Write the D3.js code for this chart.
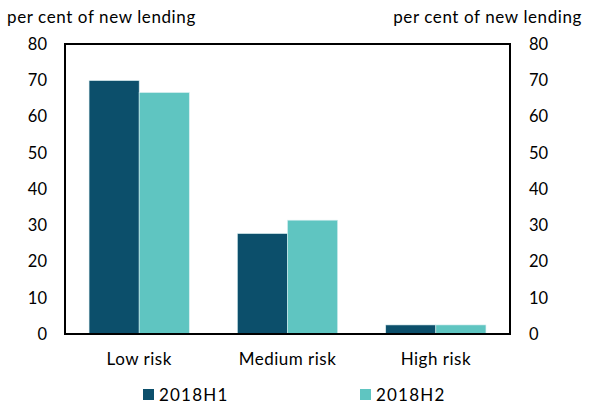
<!DOCTYPE html>
<html><head><meta charset="utf-8">
<script src="https://cdn.jsdelivr.net/npm/d3@7"></script>
<style>body{margin:0;background:#fff;} text{font-family:Lato, "Open Sans", sans-serif;}</style>
</head><body>
<svg id="c" width="593" height="409"></svg>
<script>
const categories = ["Low risk", "Medium risk", "High risk"];
const seriesNames = ["2018H1", "2018H2"];
const h1Values = [69.9, 27.7, 2.5];
const h2Values = [66.6, 31.4, 2.5];
const yTicks = [0, 10, 20, 30, 40, 50, 60, 70, 80];
const colors = ["#0c4f6b", "#5fc5c1"];
const unitLabel = "per cent of new lending";

(function(){
const svg = d3.select("#c");
const pL = 65, pR = 510, pT = 44, pB = 334;
const x0 = d3.scaleBand().domain(categories).range([pL, pR]).padding(0);
const x1 = d3.scaleBand().domain(seriesNames).range([0, x0.bandwidth()]).paddingInner(0).paddingOuter(0.48);
const y = d3.scaleLinear().domain([0, 80]).range([pB, pT]);

const data = categories.map((c, i) => ({cat: c, vals: [h1Values[i], h2Values[i]]}));

const g = svg.append("g");
data.forEach(d => {
  d.vals.forEach((v, j) => {
    g.append("rect")
      .attr("x", x0(d.cat) + x1(seriesNames[j]))
      .attr("y", y(v))
      .attr("width", x1.bandwidth())
      .attr("height", y(0) - y(v))
      .attr("fill", colors[j])
      .attr("stroke", "#d8eef0").attr("stroke-width", 0.6);
  });
});

svg.append("rect").attr("x", pL).attr("y", pT).attr("width", pR - pL).attr("height", pB - pT)
  .attr("fill", "none").attr("stroke", "#000").attr("stroke-width", 2);

const yl = d3.axisLeft(y).tickValues(yTicks).tickSize(0).tickPadding(18);
const yr = d3.axisRight(y).tickValues(yTicks).tickSize(0).tickPadding(19);
const gl = svg.append("g").attr("transform", `translate(${pL},0)`).call(yl);
const gr = svg.append("g").attr("transform", `translate(${pR},0)`).call(yr);
[gl, gr].forEach(a => {
  a.select(".domain").remove();
  a.selectAll("text").attr("font-size", 16.5).attr("fill", "#000").style("font-family", "Lato");
});

const xa = d3.axisBottom(x0).tickSize(0).tickPadding(19);
const gx = svg.append("g").attr("transform", `translate(0,${pB})`).call(xa);
gx.select(".domain").remove();
gx.selectAll("text").attr("font-size", 17).attr("letter-spacing", 0.5).attr("fill", "#000").style("font-family", "Lato");

svg.append("text").attr("x", 7).attr("y", 23).attr("font-size", 17).attr("letter-spacing", 0.6).text(unitLabel);
svg.append("text").attr("x", 582).attr("y", 23).attr("font-size", 17).attr("letter-spacing", 0.6).attr("text-anchor", "end").text(unitLabel);

const legX = [143, 360];
seriesNames.forEach((s, j) => {
  svg.append("rect").attr("x", legX[j]).attr("y", 389).attr("width", 11).attr("height", 11).attr("fill", colors[j]);
  svg.append("text").attr("x", legX[j] + 16).attr("y", 401).attr("font-size", 17).attr("letter-spacing", 1.2).text(s);
});
})();
</script>
</body></html>
